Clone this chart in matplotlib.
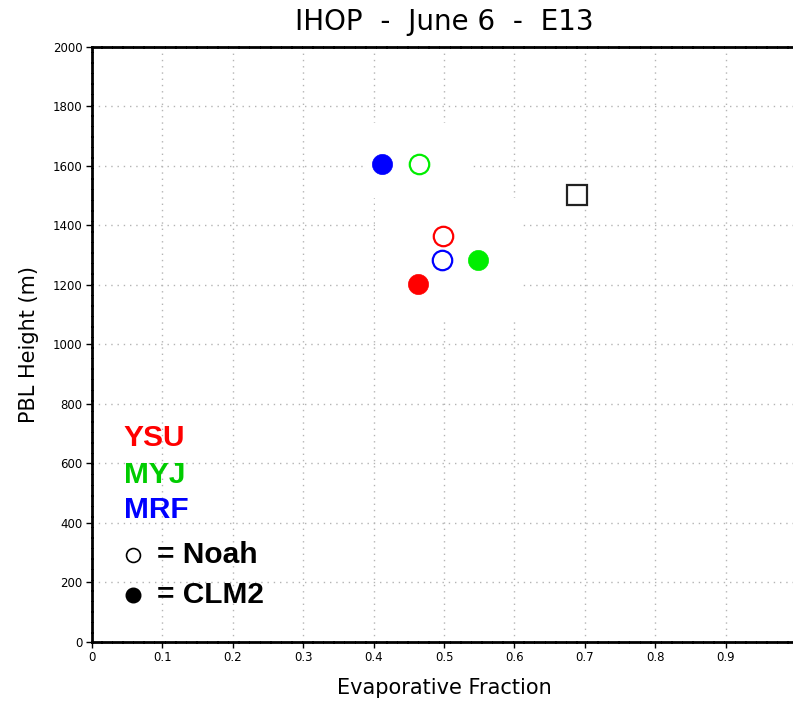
import numpy as np
import matplotlib
matplotlib.use('Agg')
from matplotlib import pyplot as plt
from matplotlib.patches import Rectangle

# PBL schemes and their colours
schemes = ['YSU', 'MYJ', 'MRF']
marker_colors = ['#ff0000', '#00ee00', '#0000ff']
text_colors = ['#ff0000', '#00cc00', '#0000ff']

# Noah land surface model runs (open circles)
noah_ef = [0.499, 0.464, 0.497]
noah_pbl = [1364, 1606, 1284]

# CLM2 land surface model runs (filled circles)
clm2_ef = [0.463, 0.548, 0.412]
clm2_pbl = [1202, 1283, 1606]

# observation (square)
obs_ef = 0.689
obs_pbl = 1503

xticks = [0, 0.1, 0.2, 0.3, 0.4, 0.5, 0.6, 0.7, 0.8, 0.9]
xticklabels = ['0', '0.1', '0.2', '0.3', '0.4', '0.5', '0.6', '0.7', '0.8', '0.9']
yticks = [0, 200, 400, 600, 800, 1000, 1200, 1400, 1600, 1800, 2000]

fig = plt.figure(figsize=(7.93, 7.02), dpi=100)
ax = fig.add_axes([0.116, 0.086, 0.888, 0.847])
ax.set_xlim(0, 1)
ax.set_ylim(0, 2000)

ax.set_xticks(xticks)
ax.set_xticklabels(xticklabels)
ax.set_yticks(yticks)
ax.tick_params(labelsize=8.5, length=4, width=1, direction='out', pad=3)
ax.grid(True, color='#b4b4b4', linestyle=(0, (1, 3.5)), linewidth=1)
ax.set_axisbelow(True)

for side in ['left', 'bottom', 'top', 'right']:
    ax.spines[side].set_linewidth(2.0)
    ax.spines[side].set_linestyle((0, (3, 0.8)))
    ax.spines[side].set_color('black')

# blank patches over part of the grid
ax.add_patch(Rectangle((0.388, 1493), 0.152, 252, facecolor='white',
                       edgecolor='none', zorder=1.5))
ax.add_patch(Rectangle((0.402, 1082), 0.209, 411, facecolor='white',
                       edgecolor='none', zorder=1.5))

for ef, pbl, c in zip(noah_ef, noah_pbl, marker_colors):
    ax.plot(ef, pbl, 'o', ms=14, mfc='white', mec=c, mew=1.6, zorder=3)
for ef, pbl, c in zip(clm2_ef, clm2_pbl, marker_colors):
    ax.plot(ef, pbl, 'o', ms=14.5, mfc=c, mec=c, mew=0.5, zorder=3)
ax.plot(obs_ef, obs_pbl, 's', ms=14, mfc='white', mec='#222222', mew=1.6, zorder=3)

ax.set_title('IHOP  -  June 6  -  E13', fontsize=20, pad=12)
ax.set_xlabel('Evaporative Fraction', fontsize=15, labelpad=10)
ax.set_ylabel('PBL Height (m)', fontsize=15, labelpad=10)

# key
key_y = [0.343, 0.280, 0.222]
for name, c, y in zip(schemes, text_colors, key_y):
    ax.text(0.045, y, name, color=c, fontsize=21.5, fontweight='bold',
            family='Liberation Sans', transform=ax.transAxes, va='center')

ax.plot(0.058, 0.146, 'o', ms=10, mfc='white', mec='black', mew=1.2,
        transform=ax.transAxes, zorder=4)
ax.plot(0.058, 0.079, 'o', ms=10.5, mfc='black', mec='black',
        transform=ax.transAxes, zorder=4)
ax.text(0.092, 0.146, '= Noah', color='black', fontsize=21.5, fontweight='bold',
        family='Liberation Sans', transform=ax.transAxes, va='center')
ax.text(0.092, 0.079, '= CLM2', color='black', fontsize=21.5, fontweight='bold',
        family='Liberation Sans', transform=ax.transAxes, va='center')

fig.savefig('out.png', dpi=100)
